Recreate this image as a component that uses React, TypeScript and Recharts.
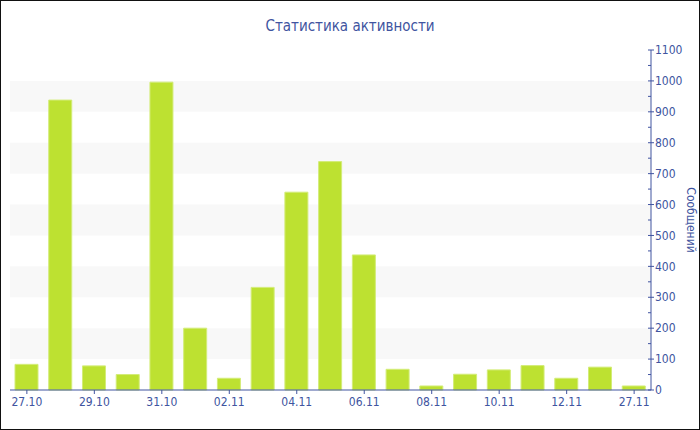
import React from 'react';
import {
  BarChart,
  Bar,
  XAxis,
  YAxis,
  ReferenceArea,
  Label
} from 'recharts';

const days = [
  '27.10', '28.10', '29.10', '30.10', '31.10', '01.11', '02.11', '03.11', '04.11', '05.11',
  '06.11', '07.11', '08.11', '09.11', '10.11', '11.11', '12.11', '13.11', '27.11'
];
const messages = [83, 938, 78, 50, 996, 200, 38, 332, 640, 739, 437, 67, 13, 51, 65, 79, 38, 74, 13];
const yTicks = [0, 50, 100, 150, 200, 250, 300, 350, 400, 450, 500, 550, 600, 650, 700, 750, 800, 850, 900, 950, 1000, 1050, 1100];
const bandStarts = [100, 300, 500, 700, 900];

const BLUE = '#4054a0';
const FONT = '"DejaVu Sans Condensed", "DejaVu Sans", sans-serif';

const data = days.map((d, i) => ({ day: d, value: messages[i] }));

const YTick = (props: any) => {
  const { x, y, payload } = props;
  const major = payload.value % 100 === 0;
  return (
    <g>
      <line x1={x - 3} y1={y} x2={major ? x + 3 : x} y2={y} stroke={BLUE} strokeWidth={1} />
      {major && (
        <text x={x + 4} y={y} dy="0.35em" fill={BLUE} fontSize={12} fontFamily={FONT}>
          {payload.value}
        </text>
      )}
    </g>
  );
};

// rotated axis title on the far right
const AxisTitle = (props: any) => {
  const vb = props.viewBox;
  const cx = vb.x + vb.width - 8;
  const cy = vb.y + vb.height / 2;
  return (
    <text
      x={cx}
      y={cy}
      transform={`rotate(90, ${cx}, ${cy})`}
      textAnchor="middle"
      dominantBaseline="central"
      fill={BLUE}
      fontSize={12}
      fontFamily={FONT}
    >
      Сообщений
    </text>
  );
};

export default function App() {
  return (
    <div
      style={{
        position: 'fixed',
        left: 0,
        top: 0,
        width: 698,
        height: 428,
        border: '1px solid #111',
        background: '#fff'
      }}
    >
      <div
        style={{
          position: 'absolute',
          top: 16,
          left: 0,
          width: 698,
          textAlign: 'center',
          color: BLUE,
          fontFamily: FONT,
          fontSize: 15,
          lineHeight: '18px'
        }}
      >
        Статистика активности
      </div>
      <BarChart
        width={698}
        height={428}
        data={data}
        margin={{ top: 49, right: 0, left: 9, bottom: 0 }}
        barSize={23}
      >
        {bandStarts.map(b => (
          <ReferenceArea
            key={b}
            y1={b}
            y2={b + 100}
            fill="#f8f8f8"
            fillOpacity={1}
            stroke="none"
            ifOverflow="extendDomain"
          />
        ))}
        <XAxis
          dataKey="day"
          interval={1}
          height={39}
          stroke={BLUE}
          tickSize={4}
          tickMargin={3}
          tick={{ fill: BLUE, fontSize: 12, fontFamily: FONT }}
        />
        <YAxis
          orientation="right"
          width={48}
          domain={[0, 1100]}
          ticks={yTicks}
          interval={0}
          stroke={BLUE}
          tickLine={false}
          tickSize={0}
          tickMargin={0}
          tick={<YTick />}
        >
          <Label content={<AxisTitle />} />
        </YAxis>
        <Bar
          dataKey="value"
          fill="#bde131"
          stroke="#d3ec78"
          strokeWidth={1}
          isAnimationActive={false}
        />
      </BarChart>
    </div>
  );
}
